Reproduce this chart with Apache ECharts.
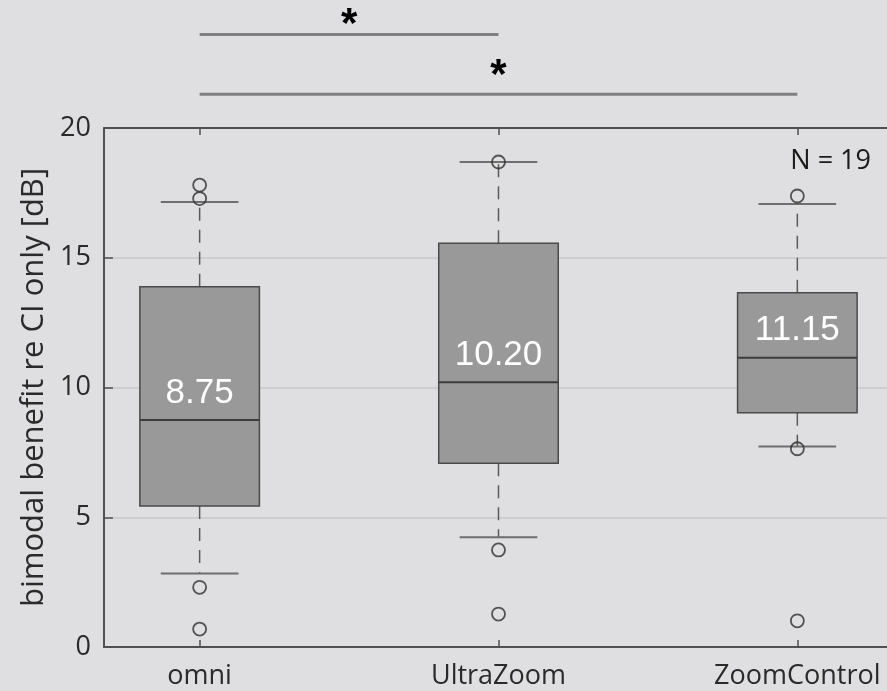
<!DOCTYPE html>
<html>
<head>
<meta charset="utf-8">
<script src="https://cdn.jsdelivr.net/npm/echarts@6/dist/echarts.min.js"></script>
<style>
  html, body { margin: 0; padding: 0; background: #dfdfe1; }
  #chart { width: 887px; height: 691px; }
</style>
</head>
<body>
<div id="chart"></div>
<script>
// Bimodal benefit per microphone setting (dB re CI only), N = 19
const categories = ['omni', 'UltraZoom', 'ZoomControl'];
const lowerWhisker = [2.83, 4.23, 7.73];
const q1 = [5.43, 7.08, 9.03];
const median = [8.75, 10.20, 11.15];
const q3 = [13.88, 15.56, 13.65];
const upperWhisker = [17.15, 18.69, 17.07];
const outliers = [
  [17.80, 17.28, 2.30, 0.69],
  [18.69, 3.74, 1.27],
  [17.38, 7.64, 1.01]
];
// Pairwise comparisons marked significant (category positions) and their bar levels in dB
const sigPairs = [[1, 2], [1, 3]];
const sigLevels = [23.6, 21.3];
const yTicks = [0, 5, 10, 15, 20];
const sampleSize = 19;

const positions = categories.map((_, i) => i + 1);
const FONT = '"Open Sans", "DejaVu Sans", sans-serif';
const BOX_WIDTH = 0.4;
const CAP_WIDTH = 0.26;
const STAR_OFFSETS = [17, 26];

const boxData = categories.map((_, i) => [
  positions[i], lowerWhisker[i], q1[i], median[i], q3[i], upperWhisker[i]
]);
const outlierData = [];
outliers.forEach((vals, i) => vals.forEach(v => outlierData.push([positions[i], v])));
const sigData = sigPairs.map((p, i) => [p[0], p[1], sigLevels[i]]);

function renderBox(params, api) {
  const x = api.value(0);
  const lo = api.value(1), lq = api.value(2), md = api.value(3), uq = api.value(4), hi = api.value(5);
  const halfBox = api.size([BOX_WIDTH, 0])[0] / 2;
  const halfCap = api.size([CAP_WIDTH, 0])[0] / 2;
  const cx = api.coord([x, md])[0];
  const yLo = api.coord([x, lo])[1];
  const yQ1 = api.coord([x, lq])[1];
  const yMd = api.coord([x, md])[1];
  const yQ3 = api.coord([x, uq])[1];
  const yHi = api.coord([x, hi])[1];
  const dash = { stroke: '#5a5a5a', lineWidth: 1.5, lineDash: [13, 9] };
  const cap = { stroke: '#6e6e6e', lineWidth: 2 };
  return {
    type: 'group',
    children: [
      { type: 'line', shape: { x1: cx, y1: yQ3, x2: cx, y2: yHi }, style: dash },
      { type: 'line', shape: { x1: cx, y1: yQ1, x2: cx, y2: yLo }, style: dash },
      { type: 'line', shape: { x1: cx - halfCap, y1: yHi, x2: cx + halfCap, y2: yHi }, style: cap },
      { type: 'line', shape: { x1: cx - halfCap, y1: yLo, x2: cx + halfCap, y2: yLo }, style: cap },
      {
        type: 'rect',
        shape: { x: cx - halfBox, y: yQ3, width: halfBox * 2, height: yQ1 - yQ3 },
        style: { fill: '#999999', stroke: '#4a4a4a', lineWidth: 1.5 }
      },
      { type: 'line', shape: { x1: cx - halfBox, y1: yMd, x2: cx + halfBox, y2: yMd }, style: { stroke: '#3c3c3c', lineWidth: 2 } },
      {
        type: 'text',
        x: cx, y: yMd - 27,
        style: {
          text: md.toFixed(2), fill: '#ffffff', fontSize: 35,
          fontFamily: '"Liberation Sans", Arial, sans-serif',
          align: 'center', verticalAlign: 'middle'
        }
      }
    ]
  };
}

function renderSig(params, api) {
  const a = api.coord([api.value(0), api.value(2)]);
  const b = api.coord([api.value(1), api.value(2)]);
  const mid = (a[0] + b[0]) / 2;
  return {
    type: 'group',
    children: [
      { type: 'line', shape: { x1: a[0], y1: a[1], x2: b[0], y2: b[1] }, style: { stroke: '#808080', lineWidth: 3 } },
      {
        type: 'text', x: mid, y: a[1] - STAR_OFFSETS[params.dataIndex] + 8,
        style: {
          text: '*', fill: '#000000', fontSize: 42, fontWeight: 'bold',
          fontFamily: '"Liberation Sans", Arial, sans-serif',
          align: 'center', verticalAlign: 'middle'
        }
      }
    ]
  };
}

const chart = echarts.init(document.getElementById('chart'), null, { renderer: 'canvas' });
chart.setOption({
  backgroundColor: '#dfdfe1',
  animation: false,
  grid: { left: 104, top: 128, width: 785, height: 519, containLabel: false },
  xAxis: [
    {
      type: 'value', min: 0.68, max: 3.3, position: 'bottom',
      axisLine: { show: true, onZero: false, lineStyle: { color: '#505050', width: 2 } },
      axisTick: { show: true, inside: true, length: 7, customValues: positions, lineStyle: { color: '#505050', width: 1.5 } },
      axisLabel: {
        customValues: positions, margin: 16, fontSize: 27, fontFamily: FONT, color: '#2a2a2a',
        formatter: v => categories[Math.round(v) - 1] || ''
      },
      splitLine: { show: false }
    },
    {
      type: 'value', min: 0.68, max: 3.3, position: 'top',
      axisLine: { show: true, onZero: false, lineStyle: { color: '#505050', width: 2 } },
      axisTick: { show: true, inside: true, length: 7, customValues: positions, lineStyle: { color: '#505050', width: 1.5 } },
      axisLabel: { show: false },
      splitLine: { show: false }
    }
  ],
  yAxis: {
    type: 'value', min: 0, max: 20, interval: 5,
    name: 'bimodal benefit re CI only [dB]', nameLocation: 'middle', nameGap: 48,
    nameTextStyle: { fontSize: 31, fontFamily: FONT, color: '#2a2a2a' },
    axisLine: { show: true, onZero: false, lineStyle: { color: '#505050', width: 2 } },
    axisTick: { show: true, inside: true, length: 9, lineStyle: { color: '#505050', width: 1.5 } },
    axisLabel: { margin: 13, fontSize: 27, fontFamily: FONT, color: '#2a2a2a', customValues: yTicks },
    splitLine: { show: true, lineStyle: { color: '#c9c9cb', width: 1.5 } }
  },
  series: [
    {
      type: 'custom', name: 'box', xAxisIndex: 0, renderItem: renderBox,
      data: boxData, encode: { x: 0, y: [1, 2, 3, 4, 5] }, z: 2
    },
    {
      type: 'scatter', name: 'outliers', xAxisIndex: 0, data: outlierData,
      symbol: 'circle', symbolSize: 13,
      itemStyle: { color: 'rgba(0,0,0,0)', borderColor: '#2e2e2e', borderWidth: 1.8 },
      z: 3
    },
    {
      type: 'custom', name: 'significance', xAxisIndex: 0, renderItem: renderSig,
      data: sigData, encode: { x: [0, 1], y: 2 }, clip: false, z: 4
    }
  ],
  graphic: [
    {
      type: 'text', right: 16, top: 148,
      style: { text: 'N = ' + sampleSize, fontSize: 27, fontFamily: FONT, fill: '#1a1a1a' }
    }
  ]
});
</script>
</body>
</html>
